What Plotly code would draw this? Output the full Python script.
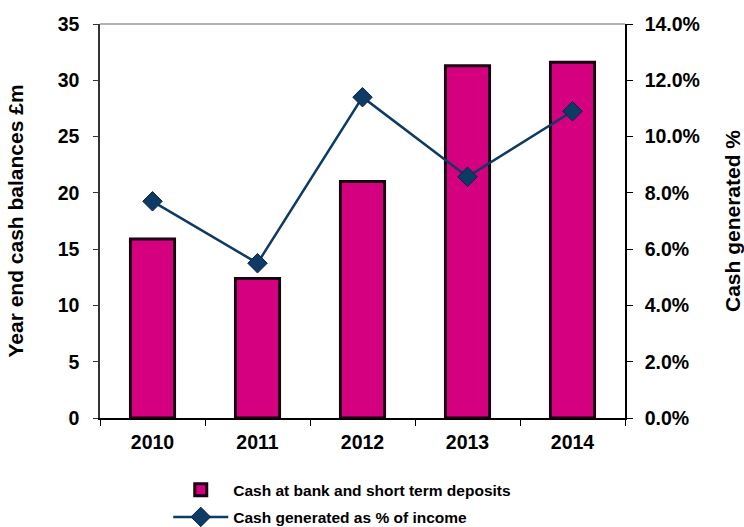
import plotly.graph_objects as go

years = ["2010", "2011", "2012", "2013", "2014"]
cash_balances = [15.9, 12.4, 21.0, 31.3, 31.6]           # £m
cash_generated_pct = [0.077, 0.055, 0.114, 0.0857, 0.109]  # share of income

FONT = "Liberation Sans, Arial, sans-serif"
BAR_COLOR = "#D4007F"
LINE_COLOR = "#0E3A66"
TICK_SIZE = 19.5
TITLE_SIZE = 21

fig = go.Figure()

fig.add_trace(go.Bar(
    x=years, y=cash_balances,
    name="<b>Cash at bank and short term deposits</b>",
    legendgroup="bars",
    marker=dict(color=BAR_COLOR, line=dict(color="#1a0010", width=3)),
    yaxis="y",
))

fig.add_trace(go.Scatter(
    x=years, y=cash_generated_pct,
    name="<b>Cash generated as % of income</b>",
    legendgroup="line",
    mode="lines+markers",
    line=dict(color=LINE_COLOR, width=2.5),
    marker=dict(symbol="diamond", size=15, color=LINE_COLOR,
                line=dict(color="#0a2440", width=1)),
    yaxis="y2",
))

fig.update_layout(
    width=744, height=527,
    margin=dict(l=100, r=119, t=24, b=109, autoexpand=False),
    paper_bgcolor="white", plot_bgcolor="white",
    font=dict(family=FONT, size=15, color="black"),
    bargap=0.58,
    showlegend=True,
    legend=dict(
        orientation="v", x=0.13, xanchor="left", y=-0.14, yanchor="top",
        font=dict(family=FONT, size=15.5, color="black"),
        traceorder="grouped", tracegroupgap=4, itemwidth=55,
    ),
    xaxis=dict(
        type="category",
        showline=True, linecolor="black", linewidth=1.5,
        ticks="outside", tickson="boundaries", ticklen=6, tickcolor="black",
        ticklabelstandoff=6,
        tickfont=dict(family=FONT, size=TICK_SIZE),
        tickprefix="<b>", ticksuffix="</b>",
        showgrid=False, mirror=False,
    ),
    yaxis=dict(
        range=[0, 35], dtick=5,
        showline=True, linecolor="#333333", linewidth=1.5,
        ticks="outside", ticklen=5, tickcolor="#333333",
        ticklabelstandoff=10,
        tickprefix="<b>", ticksuffix="</b>",
        tickfont=dict(family=FONT, size=TICK_SIZE),
        showgrid=False, zeroline=False,
        title=dict(text="<b>Year end cash balances £m</b>",
                   font=dict(family=FONT, size=TITLE_SIZE), standoff=28),
    ),
    yaxis2=dict(
        overlaying="y", side="right",
        range=[0, 0.14], dtick=0.02, tickformat=".1%",
        showline=True, linecolor="black", linewidth=1.5,
        ticks="outside", ticklen=6, tickcolor="black",
        ticklabelstandoff=8,
        tickprefix="<b>", ticksuffix="</b>",
        tickfont=dict(family=FONT, size=TICK_SIZE),
        showgrid=False, zeroline=False,
        title=dict(text="<b>Cash generated %</b>",
                   font=dict(family=FONT, size=TITLE_SIZE), standoff=26),
    ),
    shapes=[dict(type="line", xref="paper", yref="paper",
                 x0=0, x1=1, y0=1, y1=1,
                 line=dict(color="#999999", width=1.5))],
)

fig.write_html("out.html")
